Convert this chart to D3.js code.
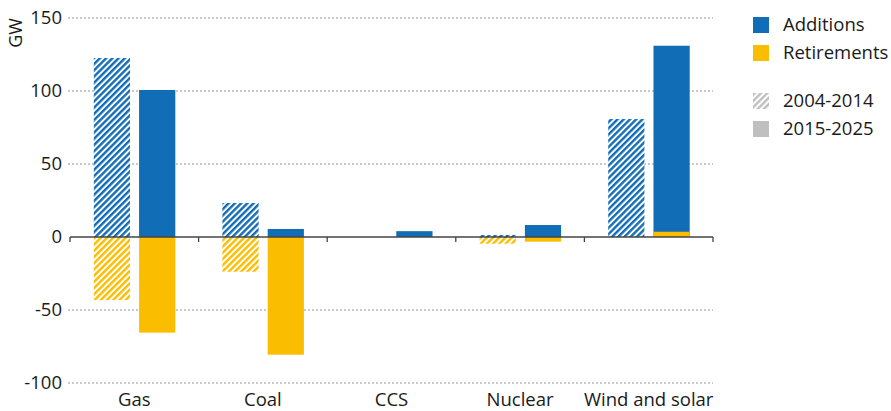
<!DOCTYPE html>
<html>
<head>
<meta charset="utf-8">
<script src="https://cdn.jsdelivr.net/npm/d3@7"></script>
<style>
  body { margin: 0; background: #fff; }
  text { font-family: "Open Sans", Lato, sans-serif; fill: #1a1a1a; }
</style>
</head>
<body>
<div id="chart"></div>
<script>
// data (GW)
var categories = ["Gas", "Coal", "CCS", "Nuclear", "Wind and solar"];
var periods = ["2004-2014", "2015-2025"];
var additions_2004 = [122.6, 23.3, 0, 1.4, 80.8];
var retirements_2004 = [-43.2, -23.8, 0, -4.6, 0];
var additions_2015 = [100.7, 5.5, 4.0, 8.2, 131.0];
var retirements_2015 = [-65.5, -80.6, 0, -3.2, 3.6];
var y_ticks = [150, 100, 50, 0, -50, -100];

var blue = "#116db6";
var yellow = "#fbbd00";
var grey = "#bfbfbf";

// set up chart parameters
var svg_width = 891;
var svg_height = 411;
var margin = { top: 18, right: 178, bottom: 28, left: 70 };
var width = svg_width - margin.left - margin.right;
var height = svg_height - margin.top - margin.bottom;

var svg = d3.select("#chart")
    .append("svg")
    .attr("width", svg_width)
    .attr("height", svg_height);

// hatch patterns
var defs = svg.append("defs");
function addHatch(id, color) {
    var p = defs.append("pattern")
        .attr("id", id)
        .attr("patternUnits", "userSpaceOnUse")
        .attr("width", 4.4)
        .attr("height", 4.4)
        .attr("patternTransform", "rotate(45)");
    p.append("rect").attr("width", 4.4).attr("height", 4.4).attr("fill", "#fff");
    p.append("rect").attr("x", 0).attr("width", 2.4).attr("height", 4.4).attr("fill", color);
}
addHatch("hatch-blue", blue);
addHatch("hatch-yellow", yellow);
addHatch("hatch-grey", grey);

var chart = svg.append("g")
    .attr("transform", `translate(${margin.left}, ${margin.top})`);

// scales
var x_scale = d3.scaleBand()
    .domain(categories)
    .range([0, width]);

var bw = x_scale.bandwidth();
var x_inner = d3.scaleBand()
    .domain(periods)
    .range([bw / 2 - 40.5, bw / 2 + 41])
    .paddingInner(0.2);

var y_scale = d3.scaleLinear()
    .domain([-100, 150])
    .range([height, 0]);

// gridlines
chart.selectAll(".grid")
    .data(y_ticks.filter(d => d !== 0))
    .enter()
    .append("line")
    .attr("x1", -2)
    .attr("x2", width)
    .attr("y1", d => y_scale(d))
    .attr("y2", d => y_scale(d))
    .attr("stroke", "#b8b8b8")
    .attr("stroke-width", 1.3)
    .attr("stroke-dasharray", "2,2");

// y axis labels
chart.selectAll(".ylab")
    .data(y_ticks)
    .enter()
    .append("text")
    .attr("x", -8)
    .attr("y", d => y_scale(d))
    .attr("dy", "0.35em")
    .attr("text-anchor", "end")
    .attr("font-size", 18.5)
    .text(d => d);

chart.append("text")
    .attr("transform", `translate(${-48}, ${15}) rotate(-90)`)
    .attr("text-anchor", "middle")
    .attr("font-size", 18)
    .text("GW");

// bars
var bar_sets = [
    { values: additions_2004, period: "2004-2014", fill: "url(#hatch-blue)" },
    { values: retirements_2004, period: "2004-2014", fill: "url(#hatch-yellow)" },
    { values: additions_2015, period: "2015-2025", fill: blue },
    { values: retirements_2015, period: "2015-2025", fill: yellow }
];

bar_sets.forEach(function(set) {
    chart.append("g")
        .selectAll("rect")
        .data(categories)
        .enter()
        .append("rect")
        .attr("x", (d, i) => x_scale(d) + x_inner(set.period))
        .attr("width", x_inner.bandwidth())
        .attr("y", (d, i) => y_scale(Math.max(0, set.values[i])))
        .attr("height", (d, i) => Math.abs(y_scale(set.values[i]) - y_scale(0)))
        .attr("fill", set.fill);
});

// zero line with category ticks
chart.append("line")
    .attr("x1", 0)
    .attr("x2", width)
    .attr("y1", y_scale(0))
    .attr("y2", y_scale(0))
    .attr("stroke", "#444")
    .attr("stroke-width", 1.5);

var boundaries = categories.map(d => x_scale(d)).concat([width]);
chart.selectAll(".xtick")
    .data(boundaries)
    .enter()
    .append("line")
    .attr("x1", d => d)
    .attr("x2", d => d)
    .attr("y1", y_scale(0))
    .attr("y2", y_scale(0) + 5)
    .attr("stroke", "#444")
    .attr("stroke-width", 1.3);

// category labels
chart.selectAll(".xlab")
    .data(categories)
    .enter()
    .append("text")
    .attr("x", d => x_scale(d) + bw / 2)
    .attr("y", height + 23)
    .attr("text-anchor", "middle")
    .attr("font-size", 18.5)
    .text(d => d);

// legend
var legend_items = [
    { label: "Additions", fill: blue, y: 17 },
    { label: "Retirements", fill: yellow, y: 45 },
    { label: "2004-2014", fill: "url(#hatch-grey)", y: 93 },
    { label: "2015-2025", fill: grey, y: 121 }
];

var legend = svg.append("g");
legend.selectAll("rect")
    .data(legend_items)
    .enter()
    .append("rect")
    .attr("x", 753)
    .attr("y", d => d.y)
    .attr("width", 16)
    .attr("height", 16)
    .attr("fill", d => d.fill);

legend.selectAll("text")
    .data(legend_items)
    .enter()
    .append("text")
    .attr("x", 783)
    .attr("y", d => d.y + 8)
    .attr("dy", "0.35em")
    .attr("font-size", 18.5)
    .text(d => d.label);
</script>
</body>
</html>
